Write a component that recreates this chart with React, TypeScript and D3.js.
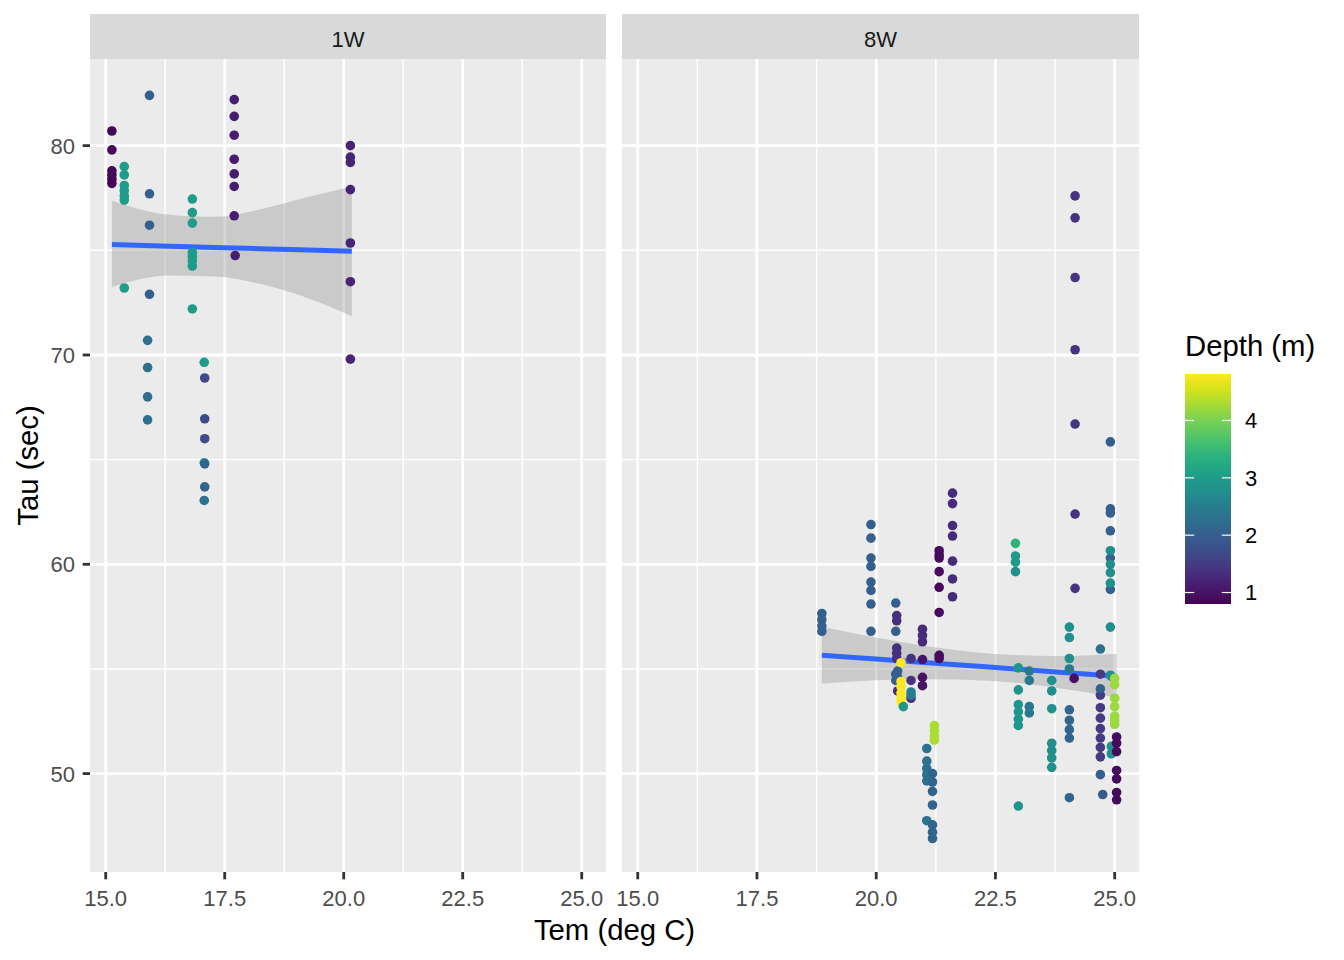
import React, { useRef, useEffect } from 'react';
import * as d3 from 'd3';

interface Column {
  tem: number;
  depth: number;
  tau: number[];
}

interface Point {
  tem: number;
  tau: number;
  depth: number;
}

interface SmoothRow {
  tem: number;
  fit: number;
  lo: number;
  hi: number;
}

// one entry per vertical run of points: temperature, depth and the tau values
const columns1W: Column[] = [
  { tem: 15.13, depth: 0.85, tau: [80.7, 79.8, 78.8, 78.6, 78.4, 78.2] },
  { tem: 15.39, depth: 3.0, tau: [79.0, 78.6, 78.1, 77.85, 77.6, 77.4, 73.2] },
  { tem: 15.92, depth: 2.0, tau: [82.4, 77.7, 76.2, 72.9] },
  { tem: 15.88, depth: 2.25, tau: [70.7, 69.4, 68.0, 66.9] },
  { tem: 16.82, depth: 3.0, tau: [77.45, 76.8, 76.3, 74.9, 74.7, 74.5, 74.25, 72.2] },
  { tem: 17.07, depth: 3.0, tau: [69.65, 64.85] },
  { tem: 17.08, depth: 1.7, tau: [68.9, 66.95, 66.0] },
  { tem: 17.08, depth: 2.1, tau: [64.8, 63.7] },
  { tem: 17.07, depth: 2.3, tau: [63.05] },
  { tem: 17.7, depth: 1.1, tau: [82.2, 81.4, 80.5, 79.35, 78.65, 78.05, 76.65] },
  { tem: 17.72, depth: 1.1, tau: [74.75] },
  { tem: 20.14, depth: 1.2, tau: [80.0, 79.45, 79.2, 77.9, 75.35, 73.5, 69.8] },
];

const columns8W: Column[] = [
  { tem: 18.86, depth: 2.0, tau: [57.65, 57.35, 57.05, 56.8] },
  { tem: 19.89, depth: 2.0, tau: [61.9, 61.25, 60.3, 59.9, 59.15, 58.75, 58.1, 56.8] },
  { tem: 20.41, depth: 2.0, tau: [58.15, 56.8, 54.75, 54.45] },
  { tem: 20.43, depth: 1.35, tau: [57.55, 57.3, 56.0, 55.75, 55.5] },
  { tem: 20.45, depth: 2.0, tau: [54.9, 54.6] },
  { tem: 20.45, depth: 1.3, tau: [53.95] },
  { tem: 20.52, depth: 4.8, tau: [55.3, 54.4, 54.15, 53.85, 53.6, 53.4] },
  { tem: 20.57, depth: 2.9, tau: [53.2] },
  { tem: 20.73, depth: 1.4, tau: [55.5, 54.45, 53.6] },
  { tem: 20.73, depth: 2.5, tau: [53.9, 53.75] },
  { tem: 20.97, depth: 1.3, tau: [56.9, 56.6, 56.3] },
  { tem: 20.97, depth: 1.0, tau: [55.45, 54.6, 54.2] },
  { tem: 21.32, depth: 0.9, tau: [60.65, 60.45, 60.3, 59.65, 58.9, 57.7, 55.65, 55.5] },
  { tem: 21.6, depth: 1.3, tau: [63.4, 62.9, 61.85, 61.35, 60.15, 59.3, 58.45] },
  { tem: 21.22, depth: 4.3, tau: [52.3, 52.05, 51.8, 51.6] },
  { tem: 21.06, depth: 2.3, tau: [51.2, 50.6, 50.25, 49.95, 49.65, 47.75] },
  { tem: 21.18, depth: 2.1, tau: [50.0, 49.6, 49.15, 48.5, 47.55, 47.2, 46.9] },
  { tem: 22.92, depth: 3.4, tau: [61.0] },
  { tem: 22.92, depth: 3.0, tau: [60.4, 60.1] },
  { tem: 22.92, depth: 2.8, tau: [59.65] },
  { tem: 22.98, depth: 2.9, tau: [55.05, 54.0, 53.3, 52.95, 52.6, 52.3, 48.45] },
  { tem: 23.21, depth: 2.4, tau: [54.9, 54.45, 53.2, 52.9] },
  { tem: 23.68, depth: 2.8, tau: [54.45, 53.95, 53.1, 51.45, 51.1, 50.75, 50.3] },
  { tem: 24.05, depth: 2.8, tau: [57.0, 56.5, 55.5] },
  { tem: 24.05, depth: 2.4, tau: [55.0] },
  { tem: 24.05, depth: 2.1, tau: [53.05, 52.55, 52.1, 51.7, 48.85] },
  { tem: 24.17, depth: 1.4, tau: [77.6, 76.55, 73.7, 70.25, 66.7, 62.4, 58.85] },
  { tem: 24.15, depth: 0.95, tau: [54.55] },
  { tem: 24.7, depth: 2.3, tau: [55.95] },
  { tem: 24.7, depth: 1.5, tau: [54.75, 53.75, 53.15, 52.65, 52.15, 51.7, 51.25, 50.8] },
  { tem: 24.7, depth: 2.0, tau: [54.05, 49.95] },
  { tem: 24.75, depth: 1.9, tau: [49.0] },
  { tem: 24.91, depth: 2.0, tau: [65.85, 62.65, 62.45, 61.6, 60.3, 58.8] },
  { tem: 24.91, depth: 2.8, tau: [60.65, 60.0, 59.6, 59.1, 57.0, 54.7] },
  { tem: 24.93, depth: 2.8, tau: [54.65, 51.3, 50.95] },
  { tem: 25.0, depth: 4.2, tau: [54.55, 54.25, 53.6, 53.2, 52.75, 52.55, 52.35] },
  { tem: 25.04, depth: 0.9, tau: [51.75, 51.45, 51.05, 50.15, 49.75, 49.1, 48.75] },
];

// linear smooth and its 95% band
const smooth1W: SmoothRow[] = [
  { tem: 15.13, fit: 75.28, lo: 73.25, hi: 77.37 },
  { tem: 16.34, fit: 75.2, lo: 73.8, hi: 76.7 },
  { tem: 17.29, fit: 75.14, lo: 73.75, hi: 76.6 },
  { tem: 18.24, fit: 75.08, lo: 73.4, hi: 76.95 },
  { tem: 19.08, fit: 75.03, lo: 72.85, hi: 77.45 },
  { tem: 20.17, fit: 74.96, lo: 71.85, hi: 78.05 },
];

const smooth8W: SmoothRow[] = [
  { tem: 18.86, fit: 55.66, lo: 54.3, hi: 57.02 },
  { tem: 19.99, fit: 55.48, lo: 54.46, hi: 56.5 },
  { tem: 21.0, fit: 55.31, lo: 54.51, hi: 56.11 },
  { tem: 22.37, fit: 55.09, lo: 54.44, hi: 55.74 },
  { tem: 23.77, fit: 54.86, lo: 54.1, hi: 55.62 },
  { tem: 25.04, fit: 54.65, lo: 53.63, hi: 55.72 },
];

const facets = [
  { label: '1W', columns: columns1W, smooth: smooth1W },
  { label: '8W', columns: columns8W, smooth: smooth8W },
];

const xDomain = [14.67, 25.51];
const yDomain = [45.3, 84.14];
const depthDomain = [0.8, 4.81];
const xTicks = [15, 17.5, 20, 22.5, 25];
const xMinor = [16.25, 18.75, 21.25, 23.75];
const yTicks = [50, 60, 70, 80];
const yMinor = [55, 65, 75];
const depthTicks = [1, 2, 3, 4];

const W = 1344;
const H = 960;
const panelTop = 59;
const panelBottom = 872;
const stripTop = 14;
const panelX = [
  [90, 606],
  [622, 1139],
];
const bar = { x: 1185, y0: 374, y1: 604, w: 46 };
const font = 'Liberation Sans, Arial, Helvetica, sans-serif';

const flatten = (cols: Column[]): Point[] =>
  cols.flatMap((c) => c.tau.map((t) => ({ tem: c.tem, tau: t, depth: c.depth })));

const App: React.FC = () => {
  const svgRef = useRef<SVGSVGElement>(null);

  useEffect(() => {
    const svg = d3.select(svgRef.current);
    svg.selectAll('*').remove();

    const y = d3.scaleLinear().domain(yDomain).range([panelBottom, panelTop]);
    const color = d3.scaleSequential(d3.interpolateViridis).domain(depthDomain);
    const defs = svg.append('defs');

    facets.forEach((facet, i) => {
      const [x0, x1] = panelX[i];
      const x = d3.scaleLinear().domain(xDomain).range([x0, x1]);
      const g = svg.append('g');

      defs
        .append('clipPath')
        .attr('id', `clip${i}`)
        .append('rect')
        .attr('x', x0)
        .attr('y', panelTop)
        .attr('width', x1 - x0)
        .attr('height', panelBottom - panelTop);

      // strip
      g.append('rect')
        .attr('x', x0)
        .attr('y', stripTop)
        .attr('width', x1 - x0)
        .attr('height', panelTop - stripTop)
        .attr('fill', '#D9D9D9');
      g.append('text')
        .attr('x', (x0 + x1) / 2)
        .attr('y', (stripTop + panelTop) / 2 + 2.5)
        .attr('dy', '0.36em')
        .attr('text-anchor', 'middle')
        .attr('font-family', font)
        .attr('font-size', 22)
        .attr('fill', '#1A1A1A')
        .text(facet.label);

      // panel + grid
      g.append('rect')
        .attr('x', x0)
        .attr('y', panelTop)
        .attr('width', x1 - x0)
        .attr('height', panelBottom - panelTop)
        .attr('fill', '#EBEBEB');
      g.selectAll('.xminor')
        .data(xMinor)
        .join('line')
        .attr('x1', (d) => x(d))
        .attr('x2', (d) => x(d))
        .attr('y1', panelTop)
        .attr('y2', panelBottom)
        .attr('stroke', '#fff')
        .attr('stroke-width', 1.4);
      g.selectAll('.yminor')
        .data(yMinor)
        .join('line')
        .attr('x1', x0)
        .attr('x2', x1)
        .attr('y1', (d) => y(d))
        .attr('y2', (d) => y(d))
        .attr('stroke', '#fff')
        .attr('stroke-width', 1.4);
      g.selectAll('.xmajor')
        .data(xTicks)
        .join('line')
        .attr('x1', (d) => x(d))
        .attr('x2', (d) => x(d))
        .attr('y1', panelTop)
        .attr('y2', panelBottom)
        .attr('stroke', '#fff')
        .attr('stroke-width', 2.8);
      g.selectAll('.ymajor')
        .data(yTicks)
        .join('line')
        .attr('x1', x0)
        .attr('x2', x1)
        .attr('y1', (d) => y(d))
        .attr('y2', (d) => y(d))
        .attr('stroke', '#fff')
        .attr('stroke-width', 2.8);

      const pts = flatten(facet.columns);
      const plot = g.append('g').attr('clip-path', `url(#clip${i})`);

      plot
        .append('path')
        .datum(facet.smooth)
        .attr(
          'd',
          d3
            .area<SmoothRow>()
            .x((d) => x(d.tem))
            .y0((d) => y(d.lo))
            .y1((d) => y(d.hi))
            .curve(d3.curveMonotoneX)
        )
        .attr('fill', '#999999')
        .attr('fill-opacity', 0.4);
      plot
        .append('path')
        .datum(facet.smooth)
        .attr(
          'd',
          d3
            .line<SmoothRow>()
            .x((d) => x(d.tem))
            .y((d) => y(d.fit))
        )
        .attr('fill', 'none')
        .attr('stroke', '#3366FF')
        .attr('stroke-width', 5);

      plot
        .selectAll('circle')
        .data(pts)
        .join('circle')
        .attr('cx', (d) => x(d.tem))
        .attr('cy', (d) => y(d.tau))
        .attr('r', 4.8)
        .attr('fill', (d) => color(d.depth));

      // x axis
      const xa = g.append('g');
      xa.selectAll('line')
        .data(xTicks)
        .join('line')
        .attr('x1', (d) => x(d))
        .attr('x2', (d) => x(d))
        .attr('y1', panelBottom)
        .attr('y2', panelBottom + 7.3)
        .attr('stroke', '#333333')
        .attr('stroke-width', 2.8);
      xa.selectAll('text')
        .data(xTicks)
        .join('text')
        .attr('x', (d) => x(d))
        .attr('y', 906)
        .attr('text-anchor', 'middle')
        .attr('font-family', font)
        .attr('font-size', 22)
        .attr('fill', '#4D4D4D')
        .text((d) => d.toFixed(1));

      if (i === 0) {
        const ya = g.append('g');
        ya.selectAll('line')
          .data(yTicks)
          .join('line')
          .attr('x1', x0 - 7.3)
          .attr('x2', x0)
          .attr('y1', (d) => y(d))
          .attr('y2', (d) => y(d))
          .attr('stroke', '#333333')
          .attr('stroke-width', 2.8);
        ya.selectAll('text')
          .data(yTicks)
          .join('text')
          .attr('x', x0 - 15)
          .attr('y', (d) => y(d))
          .attr('dy', '0.36em')
          .attr('text-anchor', 'end')
          .attr('font-family', font)
          .attr('font-size', 22)
          .attr('fill', '#4D4D4D')
          .text((d) => d);
      }
    });

    // axis titles
    svg
      .append('text')
      .attr('x', (panelX[0][0] + panelX[1][1]) / 2)
      .attr('y', 940)
      .attr('text-anchor', 'middle')
      .attr('font-family', font)
      .attr('font-size', 29.3)
      .attr('fill', '#000')
      .text('Tem (deg C)');
    svg
      .append('text')
      .attr('transform', `translate(38,${(panelTop + panelBottom) / 2}) rotate(-90)`)
      .attr('text-anchor', 'middle')
      .attr('font-family', font)
      .attr('font-size', 29.3)
      .attr('fill', '#000')
      .text('Tau (sec)');

    // colour bar legend
    const dy = d3.scaleLinear().domain(depthDomain).range([bar.y1, bar.y0]);
    const grad = defs
      .append('linearGradient')
      .attr('id', 'depthGrad')
      .attr('x1', 0)
      .attr('x2', 0)
      .attr('y1', 1)
      .attr('y2', 0);
    grad
      .selectAll('stop')
      .data(d3.range(21).map((k) => k / 20))
      .join('stop')
      .attr('offset', (d) => d)
      .attr('stop-color', (d) => d3.interpolateViridis(d));

    const lg = svg.append('g');
    lg.append('text')
      .attr('x', bar.x)
      .attr('y', 356)
      .attr('font-family', font)
      .attr('font-size', 29.3)
      .attr('fill', '#000')
      .text('Depth (m)');
    lg.append('rect')
      .attr('x', bar.x)
      .attr('y', bar.y0)
      .attr('width', bar.w)
      .attr('height', bar.y1 - bar.y0)
      .attr('fill', 'url(#depthGrad)');
    depthTicks.forEach((t) => {
      lg.append('line')
        .attr('x1', bar.x)
        .attr('x2', bar.x + bar.w / 5)
        .attr('y1', dy(t))
        .attr('y2', dy(t))
        .attr('stroke', '#fff')
        .attr('stroke-width', 1.2);
      lg.append('line')
        .attr('x1', bar.x + bar.w - bar.w / 5)
        .attr('x2', bar.x + bar.w)
        .attr('y1', dy(t))
        .attr('y2', dy(t))
        .attr('stroke', '#fff')
        .attr('stroke-width', 1.2);
      lg.append('text')
        .attr('x', bar.x + bar.w + 14)
        .attr('y', dy(t))
        .attr('dy', '0.36em')
        .attr('font-family', font)
        .attr('font-size', 22)
        .attr('fill', '#000')
        .text(t);
    });
  }, []);

  return (
    <div style={{ position: 'absolute', left: 0, top: 0 }}>
      <svg ref={svgRef} width={W} height={H} style={{ display: 'block', background: '#fff' }} />
    </div>
  );
};

export default App;
